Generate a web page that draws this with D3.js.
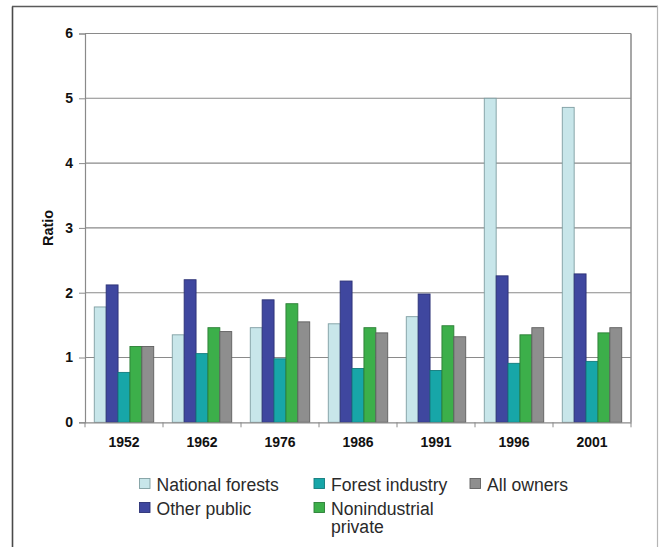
<!DOCTYPE html>
<html>
<head>
<meta charset="utf-8">
<script src="https://cdn.jsdelivr.net/npm/d3@7"></script>
<style>
  html, body { margin: 0; padding: 0; background: #fff; }
  svg { display: block; }
</style>
</head>
<body>
<svg id="chart" width="659" height="547"></svg>
<script>
// ---- data ----
const years = ["1952", "1962", "1976", "1986", "1991", "1996", "2001"];
const seriesNames = ["National forests", "Other public", "Forest industry", "Nonindustrial private", "All owners"];
const nationalForests = [1.78, 1.35, 1.46, 1.52, 1.63, 5.00, 4.86];
const otherPublic     = [2.12, 2.20, 1.89, 2.18, 1.98, 2.26, 2.29];
const forestIndustry  = [0.77, 1.06, 0.98, 0.83, 0.80, 0.91, 0.94];
const nonindustrial   = [1.17, 1.46, 1.83, 1.46, 1.49, 1.35, 1.38];
const allOwners       = [1.17, 1.40, 1.55, 1.38, 1.32, 1.46, 1.46];
const yTicks = [0, 1, 2, 3, 4, 5, 6];
const yLabel = "Ratio";

(function () {
const seriesValues = [nationalForests, otherPublic, forestIndustry, nonindustrial, allOwners];
const colors = ["#c8e6ea", "#3f479f", "#17a6a8", "#3caf4a", "#8e8e8e"];
const strokes = ["#7f9ea2", "#2c3275", "#127b7c", "#2b7f35", "#5f5f5f"];
const FONT = "Liberation Sans, Arial, Helvetica, sans-serif";

const svg = d3.select("#chart");

// outer frame
svg.append("line").attr("x1", 12.5).attr("x2", 12.5).attr("y1", 6.5).attr("y2", 547)
  .attr("stroke", "#4a4a4a").attr("stroke-width", 1.6);
svg.append("line").attr("x1", 12).attr("x2", 658).attr("y1", 6.5).attr("y2", 6.5)
  .attr("stroke", "#5a5a5a").attr("stroke-width", 1.6);
svg.append("line").attr("x1", 657.5).attr("x2", 657.5).attr("y1", 6).attr("y2", 547)
  .attr("stroke", "#b5b5b5").attr("stroke-width", 1.2);

const pLeft = 85, pRight = 631, pTop = 33.5, pBottom = 422.3;

const x0 = d3.scaleBand().domain(years).range([pLeft, pRight]).paddingInner(0).paddingOuter(0);
const x1 = d3.scaleBand().domain(seriesNames).range([0, x0.bandwidth()]).paddingInner(0).paddingOuter(0.78);
const y = d3.scaleLinear().domain([0, 6]).range([pBottom, pTop]);

// gridlines
svg.append("g").selectAll("line").data(yTicks.filter(t => t > 0)).join("line")
  .attr("x1", pLeft).attr("x2", pRight)
  .attr("y1", d => y(d)).attr("y2", d => y(d))
  .attr("stroke", "#8a8a8a").attr("stroke-width", 1.1);

// plot right border
svg.append("line").attr("x1", pRight).attr("x2", pRight).attr("y1", pTop).attr("y2", pBottom)
  .attr("stroke", "#8a8a8a").attr("stroke-width", 1.5);

// bars
const groups = svg.append("g").selectAll("g").data(years).join("g")
  .attr("transform", d => `translate(${x0(d)},0)`);
groups.selectAll("rect")
  .data((yr, i) => seriesNames.map((s, j) => ({ s, j, v: seriesValues[j][i] })))
  .join("rect")
  .attr("x", d => x1(d.s))
  .attr("width", x1.bandwidth())
  .attr("y", d => y(d.v))
  .attr("height", d => y(0) - y(d.v))
  .attr("fill", d => colors[d.j])
  .attr("stroke", d => strokes[d.j])
  .attr("stroke-width", 0.9);

// y axis
const yAxis = svg.append("g").attr("transform", `translate(${pLeft},0)`)
  .call(d3.axisLeft(y).tickValues(yTicks).tickSize(6).tickPadding(6).tickFormat(d3.format("d")));
yAxis.select(".domain").attr("stroke", "#8a8a8a").attr("stroke-width", 1.2);
yAxis.selectAll(".tick line").attr("stroke", "#8a8a8a");
yAxis.selectAll("text").attr("font-family", FONT)
  .attr("font-size", 14).attr("font-weight", "bold").attr("fill", "#111");

// x axis
const xAxis = svg.append("g").attr("transform", `translate(0,${pBottom})`)
  .call(d3.axisBottom(x0).tickSize(0).tickPadding(15));
xAxis.select(".domain").attr("stroke", "#8a8a8a").attr("stroke-width", 1.2);
xAxis.selectAll("text").attr("font-family", FONT)
  .attr("font-size", 14).attr("font-weight", "bold").attr("fill", "#111");
// boundary ticks
const boundaries = years.map(d => x0(d)).concat([pRight]);
svg.append("g").selectAll("line").data(boundaries).join("line")
  .attr("x1", d => d).attr("x2", d => d)
  .attr("y1", pBottom).attr("y2", pBottom + 5)
  .attr("stroke", "#8a8a8a").attr("stroke-width", 1);

// y label
svg.append("text")
  .attr("transform", `translate(52.5,${(pTop + pBottom) / 2}) rotate(-90)`)
  .attr("text-anchor", "middle")
  .attr("font-family", FONT)
  .attr("font-size", 14.5).attr("font-weight", "bold").attr("fill", "#111")
  .text(yLabel);

// legend
const legendPos = [
  { x: 139, y: 478 }, { x: 139, y: 502 },
  { x: 313.5, y: 478 }, { x: 313.5, y: 502 },
  { x: 469.5, y: 478 }
];
const legendLines = [["National forests"], ["Other public"], ["Forest industry"], ["Nonindustrial", "private"], ["All owners"]];
const leg = svg.append("g").selectAll("g").data(seriesNames).join("g")
  .attr("transform", (d, i) => `translate(${legendPos[i].x},${legendPos[i].y})`);
leg.append("rect").attr("x", 0.5).attr("y", 0.5).attr("width", 10.5).attr("height", 10)
  .attr("fill", (d, i) => colors[i]).attr("stroke", (d, i) => strokes[i]).attr("stroke-width", 0.9);
leg.append("text")
  .attr("x", 17.5).attr("y", 12.5)
  .attr("font-family", FONT)
  .attr("font-size", 17.6).attr("fill", "#2a2a2a")
  .selectAll("tspan").data((d, i) => legendLines[i]).join("tspan")
  .attr("x", 17.5).attr("dy", (d, k) => k === 0 ? 0 : 18)
  .text(d => d);
})();
</script>
</body>
</html>
